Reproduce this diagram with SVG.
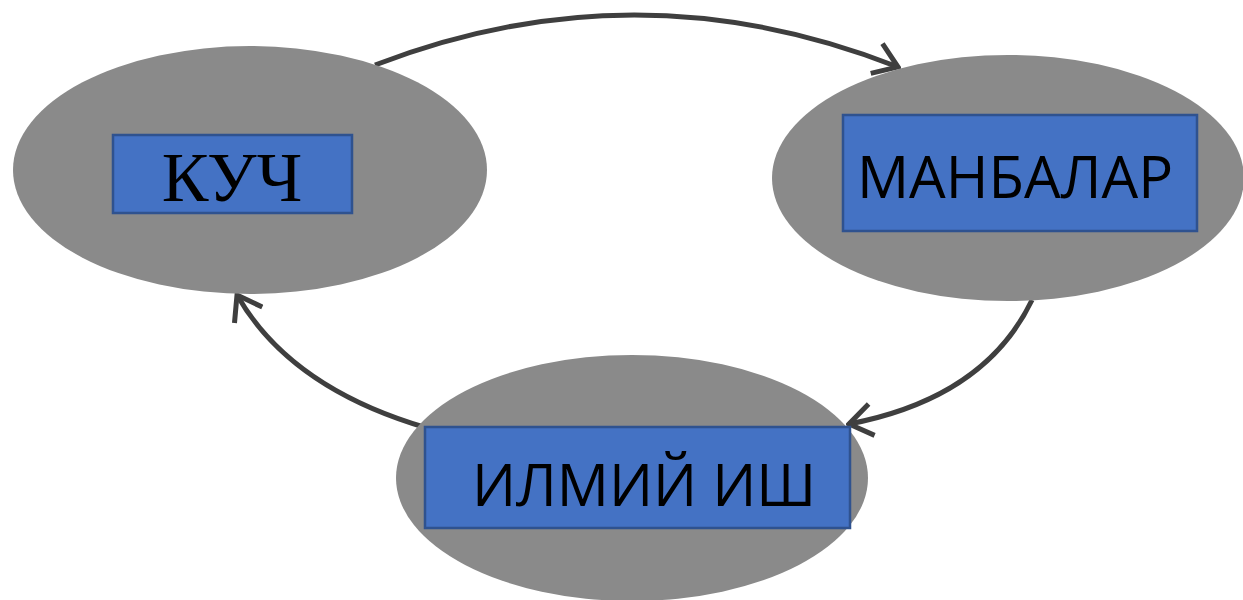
<svg xmlns="http://www.w3.org/2000/svg" width="1243" height="600" viewBox="0 0 1243 600">
<defs>
<style>
.ell{fill:#8a8a8a;}
.box{fill:#4472c4;stroke:#2f528f;stroke-width:2.5;}
.sans{font-family:"Open Sans","Liberation Sans",sans-serif;font-size:58px;fill:#000;}
.serif{font-family:"Liberation Serif",serif;font-size:70px;fill:#000;}
.con{fill:none;stroke:#3f3f3f;stroke-width:5;}
</style>
<marker id="ah" viewBox="0 0 30 36" refX="27" refY="18" markerWidth="30" markerHeight="36" markerUnits="userSpaceOnUse" orient="auto">
<path d="M4,2 L27,18 L4,34" fill="none" stroke="#3f3f3f" stroke-width="5"/>
</marker>
</defs>
<rect width="1243" height="600" fill="#fff"/>
<g id="connectors">
<path class="con" d="M375,65 Q637,-36 898,67" marker-end="url(#ah)"/>
<path class="con" d="M1032,300 Q985,398 849,424" marker-end="url(#ah)"/>
<path class="con" d="M427,428 Q290,388 237,295" marker-end="url(#ah)"/>
</g>
<g id="kuch">
<ellipse class="ell" cx="250" cy="170" rx="237" ry="124"/>
<rect class="box" x="113" y="135" width="239" height="78"/>
<text class="serif" x="232" y="201" text-anchor="middle">КУЧ</text>
</g>
<g id="manbalar">
<ellipse class="ell" cx="1008" cy="178" rx="236" ry="123"/>
<rect class="box" x="843" y="115" width="354" height="116"/>
<text class="sans" x="1015" y="198" text-anchor="middle">МАНБАЛАР</text>
</g>
<g id="ilmiy">
<ellipse class="ell" cx="632" cy="478" rx="236" ry="123"/>
<rect class="box" x="425" y="427" width="425" height="101"/>
<text class="sans" x="644" y="506" text-anchor="middle">ИЛМИЙ ИШ</text>
</g>
</svg>
